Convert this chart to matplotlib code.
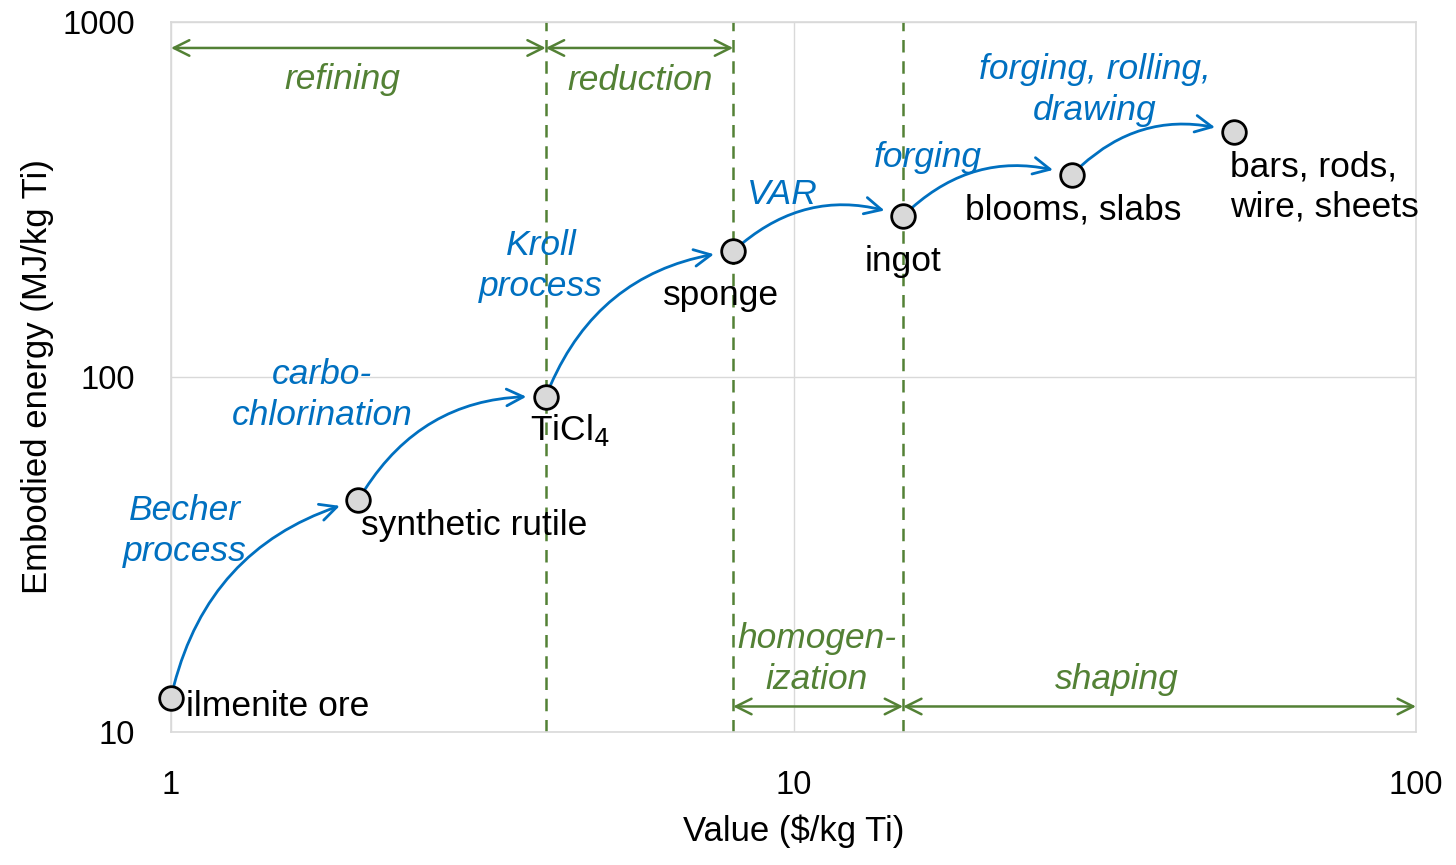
import matplotlib.pyplot as plt
from matplotlib.ticker import FixedLocator, NullLocator

plt.rcParams['font.family'] = ['Liberation Sans', 'DejaVu Sans']

# ── data ───────────────────────────────────────────────
stages = ["ilmenite ore", "synthetic rutile", "TiCl$_4$", "sponge",
          "ingot", "blooms, slabs", "bars, rods,\nwire, sheets"]
value = [1.0, 2.0, 4.0, 8.0, 15.0, 28.0, 51.0]          # $/kg Ti
energy = [12.5, 45, 88, 226, 284, 371, 490]             # MJ/kg Ti
steps = ["Becher\nprocess", "carbo-\nchlorination", "Kroll\nprocess", "VAR",
         "forging", "forging, rolling,\ndrawing"]
boundaries = [4.0, 8.0, 15.0]
phases_top = [("refining", 1.0, 4.0), ("reduction", 4.0, 8.0)]
phases_bot = [("homogen-\nization", 8.0, 15.0), ("shaping", 15.0, 100.0)]

BLUE = "#0070c0"
GREEN = "#538135"
GRID = "#d9d9d9"
FS = 25.5
LS = 1.3

fig = plt.figure(figsize=(14.56, 8.65), dpi=100)
ax = fig.add_axes([171 / 1456, 1 - 732 / 865, 1245 / 1456, 710 / 865])
ax.set_xscale("log")
ax.set_yscale("log")
ax.set_xlim(1, 100)
ax.set_ylim(10, 1000)

ax.xaxis.set_major_locator(FixedLocator([1, 10, 100]))
ax.yaxis.set_major_locator(FixedLocator([10, 100, 1000]))
ax.xaxis.set_minor_locator(NullLocator())
ax.yaxis.set_minor_locator(NullLocator())
ax.set_xticklabels(["1", "10", "100"])
ax.set_yticklabels(["10", "100", "1000"])
ax.tick_params(length=0, labelsize=23.5)
ax.tick_params(axis="x", pad=27)
ax.tick_params(axis="y", pad=26)
ax.grid(True, color=GRID, lw=1)
for s in ax.spines.values():
    s.set_color(GRID)
    s.set_linewidth(1.2)
ax.set_axisbelow(True)

ax.set_xlabel("Value (\\$/kg Ti)", fontsize=25, labelpad=10)
ax.set_ylabel("Embodied energy (MJ/kg Ti)", fontsize=25, labelpad=6)

# phase boundaries
for b in boundaries:
    ax.axvline(b, color=GREEN, lw=1.8, ls=(0, (5, 3.5)), zorder=1)

ytop, ybot = 845, 11.8
for name, a, b in phases_top + phases_bot:
    y = ytop if (name, a, b) in phases_top else ybot
    ax.annotate("", xy=(b, y), xytext=(a, y),
                arrowprops=dict(arrowstyle="<->", color=GREEN, lw=1.8,
                                shrinkA=0, shrinkB=0, mutation_scale=28))

def fr(px, py):
    return ((px - 171) / 1245, (732 - py) / 710)

green_pos = [(342, 80), (640, 80), (817, 659), (1117, 680)]
for (name, _, _), p in zip(phases_top + phases_bot, green_pos):
    ax.text(*fr(*p), name, transform=ax.transAxes, color=GREEN, fontsize=FS,
            style="italic", ha="center", va="center", linespacing=LS)

# process arrows
for i in range(len(value) - 1):
    ax.annotate("", xy=(value[i + 1], energy[i + 1]), xytext=(value[i], energy[i]),
                arrowprops=dict(arrowstyle="->", color=BLUE, lw=2,
                                connectionstyle="arc3,rad=-0.3",
                                shrinkA=9, shrinkB=14, mutation_scale=30))

blue_pos = [(185, 531), (322, 395), (541, 266), (782, 194), (928, 157), (1095, 90)]
for s, p in zip(steps, blue_pos):
    ax.text(*fr(*p), s, transform=ax.transAxes, color=BLUE, fontsize=FS,
            style="italic", ha="center", va="center", linespacing=LS)

ax.plot(value, energy, "o", ms=17, mfc="#d9d9d9", mec="black", mew=2,
        zorder=5, clip_on=False)

label_pos = [(186, 706, "left"), (361, 526, "left"), (530, 430, "left"),
             (721, 295, "center"), (903, 262, "center"), (1073, 210, "center"),
             (1230, 187, "left")]
for s, (px, py, ha) in zip(stages, label_pos):
    ax.text(*fr(px, py), s, transform=ax.transAxes, color="black", fontsize=FS,
            ha=ha, va="center", linespacing=LS)

fig.savefig("out.png", dpi=100)
